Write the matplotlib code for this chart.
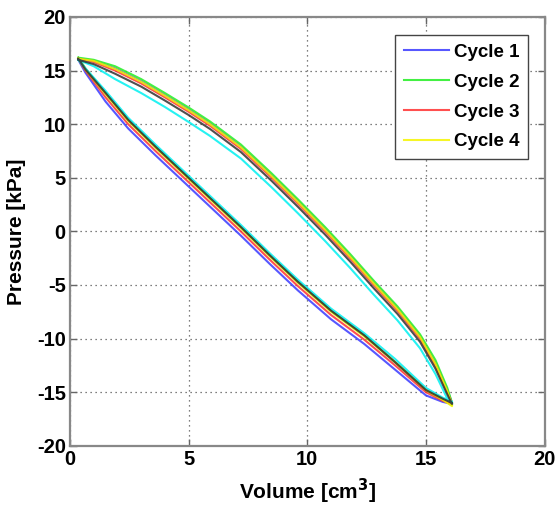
import matplotlib
matplotlib.use("Agg")
import matplotlib.pyplot as plt

plt.rcParams['font.family'] = ['Liberation Sans', 'DejaVu Sans']
plt.rcParams['axes.unicode_minus'] = False

# Volume samples along the emptying (lower) branch and filling (upper) branch
lower_x = [0.35, 0.65, 1.5, 2.45, 3.6, 4.8, 6.0, 7.2, 8.4, 9.6, 11.0, 12.4, 13.7, 15.0, 15.7, 16.1]
upper_x = [0.35, 1.0, 1.9, 3.0, 4.0, 5.0, 5.9, 7.2, 8.5, 9.6, 10.75, 11.8, 12.8, 13.8, 14.75, 15.4, 15.9, 16.1]

# Pressure values per cycle (lower branch, upper branch)
c1_lower = [16.0, 14.8, 12.1, 9.6, 7.1, 4.6, 2.1, -0.4, -3.0, -5.5, -8.2, -10.5, -12.9, -15.3, -15.9, -16.1]
c1_upper = [16.1, 15.9, 15.2, 14.0, 12.7, 11.35, 10.05, 7.9, 5.2, 2.8, 0.2, -2.3, -4.8, -7.2, -9.8, -12.3, -14.8, -16.0]
c2_lower = [16.2, 15.2, 12.9, 10.4, 7.9, 5.4, 2.9, 0.4, -2.2, -4.7, -7.4, -9.7, -12.2, -14.8, -15.7, -16.2]
c2_upper = [16.2, 16.0, 15.4, 14.2, 12.9, 11.55, 10.25, 8.1, 5.4, 3.0, 0.4, -2.1, -4.6, -7.0, -9.6, -12.0, -14.6, -16.0]
c3_lower = [16.1, 15.0, 12.5, 10.0, 7.5, 5.0, 2.5, 0.0, -2.6, -5.1, -7.8, -10.1, -12.5, -15.0, -15.8, -16.1]
c3_upper = [16.1, 15.8, 15.0, 13.8, 12.5, 11.15, 9.85, 7.7, 5.0, 2.6, 0.0, -2.5, -5.0, -7.4, -10.0, -12.5, -15.0, -16.1]
c4_lower = [16.1, 15.1, 12.8, 10.3, 7.8, 5.3, 2.8, 0.3, -2.3, -4.8, -7.5, -9.8, -12.2, -14.8, -15.7, -16.3]
c4_upper = [16.1, 15.9, 15.15, 13.95, 12.65, 11.3, 10.0, 7.85, 5.15, 2.75, 0.15, -2.35, -4.85, -7.25, -9.85, -12.35, -14.9, -16.2]
c5_lower = [16.0, 15.2, 13.1, 10.6, 8.1, 5.6, 3.1, 0.6, -2.0, -4.5, -7.2, -9.5, -11.9, -14.6, -15.5, -15.9]
c5_upper = [16.0, 15.4, 14.2, 12.9, 11.6, 10.2, 8.9, 6.8, 4.1, 1.7, -0.9, -3.4, -5.9, -8.3, -10.9, -13.3, -15.6, -16.0]
c6_lower = [16.1, 15.1, 12.9, 10.4, 7.9, 5.4, 2.9, 0.4, -2.2, -4.7, -7.4, -9.7, -12.2, -14.8, -15.6, -16.0]
c6_upper = [16.0, 15.6, 14.7, 13.5, 12.2, 10.85, 9.55, 7.4, 4.7, 2.3, -0.3, -2.8, -5.3, -7.7, -10.3, -12.8, -15.2, -16.1]

labels = ['Cycle 1', 'Cycle 2', 'Cycle 3', 'Cycle 4', None, None]
colors = ['#3a3aff', '#22ee22', '#ff3030', '#f5f500', '#00f0f0', '#303030']
lowers = [c1_lower, c2_lower, c3_lower, c4_lower, c5_lower, c6_lower]
uppers = [c1_upper, c2_upper, c3_upper, c4_upper, c5_upper, c6_upper]

fig = plt.figure(figsize=(5.57, 5.13), dpi=100)
ax = fig.add_axes([0.1257, 0.131, 0.852, 0.836])

handles = []
for lab, col, lo, up in zip(labels, colors, lowers, uppers):
    xs = lower_x + upper_x[::-1]
    ys = lo + up[::-1]
    ln, = ax.plot(xs, ys, color=col, lw=1.5, alpha=0.85)
    if lab:
        ln.set_label(lab)
        handles.append(ln)

ax.set_xlim(0, 20)
ax.set_ylim(-20, 20)
ax.set_xticks([0, 5, 10, 15, 20])
ax.set_yticks([-20, -15, -10, -5, 0, 5, 10, 15, 20])
ax.grid(True, linestyle=(0, (1, 3)), color='#555555', linewidth=0.9)
ax.tick_params(direction='in', top=True, right=True, length=5, width=1, color='#666666',
               labelsize=14.5, pad=3)
for lbl in ax.get_xticklabels() + ax.get_yticklabels():
    lbl.set_fontweight('bold')
for sp in ax.spines.values():
    sp.set_color('#888888')
    sp.set_linewidth(1.6)

ax.set_xlabel('Volume [cm$^\\mathbf{3}$]', fontsize=15, fontweight='bold', labelpad=6)
ax.set_ylabel('Pressure [kPa]', fontsize=15, fontweight='bold', labelpad=8)

leg = ax.legend(handles=handles, loc='upper right', prop={'weight': 'bold', 'size': 13.5},
                fancybox=False, edgecolor='#444444', framealpha=1, handlelength=2.4,
                borderpad=0.45, labelspacing=0.68, handletextpad=0.3,
                bbox_to_anchor=(0.985, 0.979))
leg.get_frame().set_linewidth(1.0)

fig.savefig('out.png', dpi=100)
